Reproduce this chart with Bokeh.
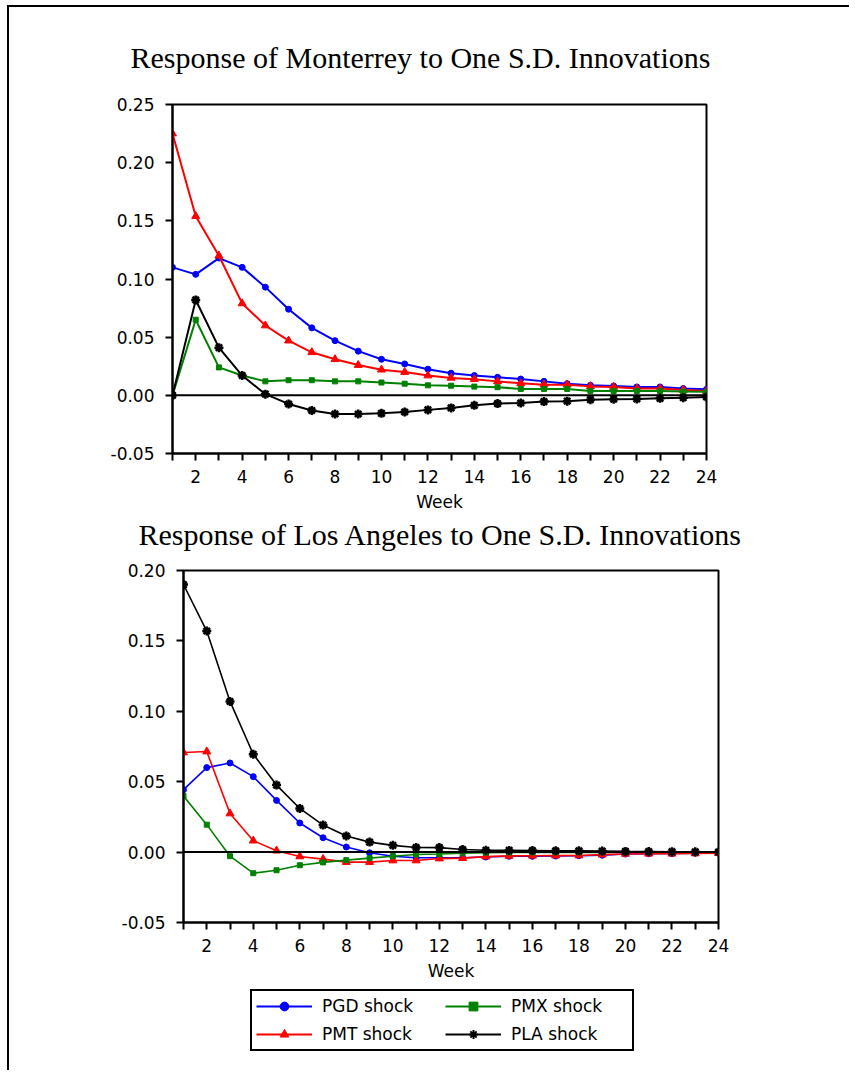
from bokeh.plotting import figure
from bokeh.models import Range1d, FixedTicker, NumeralTickFormatter, Span, Legend, LegendItem, Title
from bokeh.layouts import column, row
from bokeh.embed import file_html
from bokeh.resources import INLINE

weeks = list(range(1, 25))
x_tick_labels = {w: (str(w) if w % 2 == 0 else "") for w in weeks}

series_names = ["PGD shock", "PMT shock", "PMX shock", "PLA shock"]
titles = ["Response of Monterrey to One S.D. Innovations",
          "Response of Los Angeles to One S.D. Innovations"]

# Response of Monterrey
mty_pgd = [0.110, 0.104, 0.118, 0.110, 0.093, 0.074, 0.058, 0.047, 0.038, 0.031, 0.027, 0.0225,
           0.019, 0.017, 0.0155, 0.014, 0.012, 0.010, 0.0086, 0.008, 0.0072, 0.0072, 0.0058, 0.0052]
mty_pmt = [0.225, 0.154, 0.120, 0.079, 0.060, 0.047, 0.037, 0.031, 0.026, 0.022, 0.020, 0.017,
           0.015, 0.0138, 0.012, 0.0103, 0.0092, 0.0092, 0.0077, 0.0072, 0.0058, 0.0058, 0.0046, 0.0038]
mty_pmx = [0.0, 0.065, 0.024, 0.017, 0.012, 0.013, 0.013, 0.012, 0.012, 0.011, 0.010, 0.0086,
           0.0083, 0.0075, 0.007, 0.0055, 0.0055, 0.0055, 0.0038, 0.0038, 0.0038, 0.0038, 0.0032, 0.003]
mty_pla = [0.0, 0.082, 0.041, 0.017, 0.001, -0.0074, -0.013, -0.016, -0.016, -0.0155, -0.0143, -0.0125,
           -0.0108, -0.0086, -0.0071, -0.0066, -0.0054, -0.005, -0.0037, -0.0034, -0.0032, -0.0026, -0.002, -0.0014]
mty_y_ticks = [-0.05, 0.00, 0.05, 0.10, 0.15, 0.20, 0.25]

# Response of Los Angeles
la_pgd = [0.0443, 0.060, 0.0633, 0.0536, 0.0367, 0.0207, 0.0102, 0.0036, -0.0005, -0.0029, -0.004, -0.004,
          -0.004, -0.0035, -0.003, -0.003, -0.0028, -0.0026, -0.0022, -0.0014, -0.0012, -0.001, -0.0008, -0.0007]
la_pmt = [0.0707, 0.0714, 0.0274, 0.0081, 0.001, -0.0031, -0.005, -0.0071, -0.0071, -0.006, -0.006, -0.0046,
          -0.0043, -0.0032, -0.0027, -0.0026, -0.0025, -0.0024, -0.0018, -0.0013, -0.0012, -0.0012, -0.0010, -0.0008]
la_pmx = [0.0398, 0.0195, -0.0029, -0.015, -0.0129, -0.0093, -0.0073, -0.0057, -0.0043, -0.0029, -0.0017, -0.0014,
          -0.0007, -0.0004, -0.0003, -0.0003, -0.0002, -0.0002, -0.0002, -0.0001, -0.0001, -0.0001, 0.0, 0.0]
la_pla = [0.190, 0.157, 0.107, 0.0695, 0.0476, 0.031, 0.0192, 0.0114, 0.0071, 0.0048, 0.0033, 0.0032,
          0.0018, 0.0013, 0.0012, 0.0011, 0.0010, 0.0009, 0.0008, 0.0005, 0.0004, 0.0003, 0.0002, 0.0001]
la_y_ticks = [-0.05, 0.00, 0.05, 0.10, 0.15, 0.20]

COLORS = ["#0000FF", "#FF0000", "#008000", "#000000"]
MARKERS = [("circle", 6, 1), ("triangle", 8, 1), ("square", 5, 1), ("asterisk", 9, 2.5)]


def title_obj(text, offset, standoff):
    return Title(text=text, align="left", offset=offset, standoff=standoff,
                 text_font="Liberation Serif", text_font_size="30px",
                 text_font_style="normal", text_color="black")


def make_fig(height, y_ticks, series, bl, br, bt, bb, lw_line):
    p = figure(width=840, height=height, x_range=Range1d(1, 24),
               y_range=Range1d(y_ticks[0], y_ticks[-1]), title=None,
               output_backend="svg", toolbar_location=None,
               min_border_left=bl, min_border_right=br, min_border_top=bt, min_border_bottom=bb)
    p.grid.visible = False
    p.outline_line_color = "black"
    p.outline_line_width = 2
    p.outline_line_alpha = 1

    p.xaxis.ticker = FixedTicker(ticks=weeks)
    p.xaxis.major_label_overrides = x_tick_labels
    p.xaxis.axis_label = "Week"
    p.xaxis.axis_label_text_font = "DejaVu Sans"
    p.xaxis.axis_label_text_font_size = "17px"
    p.xaxis.axis_label_text_font_style = "normal"
    p.xaxis.axis_label_text_color = "black"
    p.xaxis.axis_label_standoff = 6
    p.yaxis.ticker = FixedTicker(ticks=y_ticks)
    p.yaxis.formatter = NumeralTickFormatter(format="0.00")
    for ax in [p.xaxis, p.yaxis]:
        ax.major_label_text_font = "DejaVu Sans"
        ax.major_label_text_font_size = "17px"
        ax.major_label_text_color = "black"
        ax.major_tick_out = 7
        ax.major_tick_in = 0
        ax.major_tick_line_width = 2
        ax.major_tick_line_color = "black"
        ax.minor_tick_line_color = None
        ax.axis_line_width = 2
        ax.axis_line_color = "black"
    p.xaxis.major_label_standoff = 9
    p.yaxis.major_label_standoff = 11

    p.add_layout(Span(location=0, dimension="width", line_color="black", line_width=2))

    for vals, col, (mk, sz, lw) in zip(series, COLORS, MARKERS):
        p.line(weeks, vals, line_color=col, line_width=lw_line)
        p.scatter(weeks, vals, marker=mk, size=sz, line_color=col, fill_color=col, line_width=lw)
    return p


p1 = make_fig(546, mty_y_ticks, [mty_pgd, mty_pmt, mty_pmx, mty_pla], 163, 143, 97, 100, 2)
p1.add_layout(title_obj(titles[0], -42, 61), "above")
# the Los Angeles heading sits in the strip under the Monterrey axis
p1.add_layout(title_obj(titles[1], -34, 3), "below")

p2 = make_fig(434, la_y_ticks, [la_pgd, la_pmt, la_pmx, la_pla], 174, 131, 17, 65, 1.6)

# legend strip: the Los Angeles series drawn against a y range they never reach,
# so only their legend swatches show
p3 = figure(width=840, height=83, x_range=Range1d(1, 24), y_range=Range1d(5, 6), title=None,
            output_backend="svg", toolbar_location=None,
            min_border_left=0, min_border_right=0, min_border_top=0, min_border_bottom=0,
            x_axis_location=None, y_axis_location=None)
p3.grid.visible = False
p3.outline_line_color = None
rends = []
for vals, col, (mk, sz, lw) in zip([la_pgd, la_pmt, la_pmx, la_pla], COLORS, MARKERS):
    l = p3.line(weeks, vals, line_color=col, line_width=2)
    s = p3.scatter(weeks, vals, marker=mk, size=sz - 1, line_color=col, fill_color=col, line_width=min(lw, 2))
    rends.append([l, s])
items = [LegendItem(label=series_names[i], renderers=rends[i]) for i in range(4)]
legend = Legend(items=items, ncols=2, location=(241, 19),
                border_line_color="black", border_line_width=2, border_line_alpha=1,
                label_text_font="DejaVu Sans", label_text_font_size="17px", label_text_color="black",
                glyph_width=56, glyph_height=22, label_standoff=10, spacing=6, padding=4,
                label_width=117, margin=0, background_fill_alpha=1)
p3.add_layout(legend)

layout = column(row(p1), row(p2), row(p3), spacing=0,
                styles={"border-left": "2px solid black", "border-top": "2px solid black",
                        "margin-left": "7px", "margin-top": "5px"})

open("out.html", "w").write(file_html(layout, INLINE))
